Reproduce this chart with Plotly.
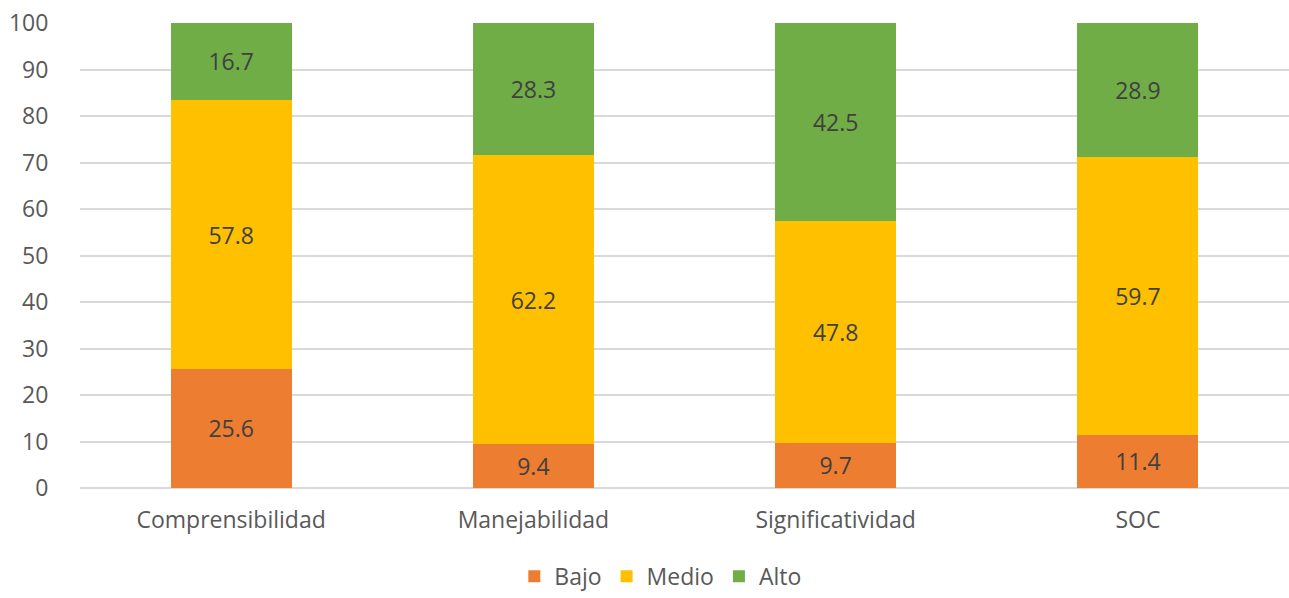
import plotly.graph_objects as go

categories = ["Comprensibilidad", "Manejabilidad", "Significatividad", "SOC"]
bajo = [25.6, 9.4, 9.7, 11.4]
medio = [57.8, 62.2, 47.8, 59.7]
alto = [16.7, 28.3, 42.5, 28.9]
y_ticks = [0, 10, 20, 30, 40, 50, 60, 70, 80, 90, 100]

series = [("Bajo", bajo, "#ED7D31"), ("Medio", medio, "#FFC000"), ("Alto", alto, "#70AD47")]

fig = go.Figure()
for name, vals, color in series:
    fig.add_trace(go.Bar(
        x=categories, y=vals, name=name, marker=dict(color=color, line=dict(width=0)),
        text=[f"{v:.1f}" for v in vals], textposition="inside", insidetextanchor="middle",
        textfont=dict(size=23, color="#404040", family="Open Sans"),
        width=0.4,
    ))

fig.update_layout(
    barmode="stack",
    width=1289, height=598,
    margin=dict(l=80, r=0, t=23, b=110),
    plot_bgcolor="white", paper_bgcolor="white",
    font=dict(family="Open Sans", color="#595959", size=23),
    showlegend=True,
    legend=dict(orientation="h", x=0.48, xanchor="center", y=-0.236, yanchor="bottom",
                font=dict(size=23, color="#595959"), traceorder="normal",
                itemwidth=30),
    uniformtext=dict(mode=False),
)
fig.update_yaxes(range=[0, 100], tickvals=y_ticks, showgrid=True, gridcolor="#D9D9D9",
                 gridwidth=1.5, zeroline=True, zerolinecolor="#D9D9D9", zerolinewidth=1.5,
                 ticks="outside", ticklen=0, ticklabelstandoff=26, tickfont=dict(size=23))
fig.update_xaxes(showline=False, ticks="", tickfont=dict(size=23), ticklabelstandoff=16)

fig.write_html("out.html")
